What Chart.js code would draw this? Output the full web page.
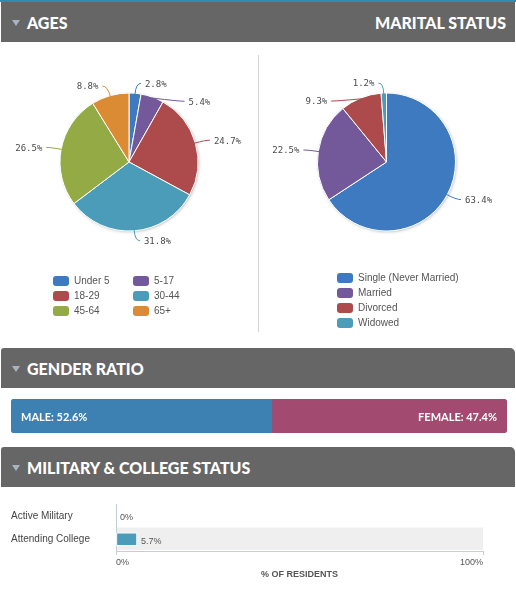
<!DOCTYPE html>
<html>
<head>
<meta charset="utf-8">
<script src="https://cdn.jsdelivr.net/npm/chart.js@4"></script>
<style>
  body { margin: 0; width: 516px; height: 594px; background: #fff; position: relative; overflow: hidden; font-family: "Liberation Sans", Arial, sans-serif; }
  .topline { position: absolute; left: 0; top: 0; width: 516px; height: 2px; background: #2f8cb9; }
  .head { position: absolute; left: 1px; width: 514px; height: 40px; background: #666; color: #fff;
          font: 900 16px Lato, sans-serif; line-height: 40px; border-radius: 3px 5px 0 0; }
  .head .tri { position: absolute; left: 11px; top: 18px; width: 0; height: 0;
               border-left: 4px solid transparent; border-right: 4px solid transparent; border-top: 6px solid #a9b3bf; }
  .head .t { position: absolute; left: 26px; top: 1px; }
  .head .r { position: absolute; right: 9px; top: 1px; }
  canvas { position: absolute; }
  .divider { position: absolute; left: 258px; top: 55px; width: 1px; height: 277px; background: #d4d4d4; }
  .legend { position: absolute; font-size: 10px; color: #555; }
  .legend .item { position: absolute; white-space: nowrap; }
  .legend .sw { position: absolute; left: 0; top: 0; width: 16px; height: 10px; border-radius: 3px; }
  .legend .lb { position: absolute; left: 21px; top: -1px; }
</style>
</head>
<body>
<div class="topline"></div>
<div class="head" style="top:2px;border-radius:0"><div class="tri"></div><span class="t">AGES</span><span class="r">MARITAL STATUS</span></div>
<canvas id="ages" width="258" height="220" style="left:0;top:45px;width:258px;height:220px"></canvas>
<canvas id="marital" width="258" height="220" style="left:258px;top:45px;width:258px;height:220px"></canvas>
<div class="divider"></div>
<div class="legend" id="agesLegend"></div>
<div class="legend" id="maritalLegend"></div>

<div class="head" style="top:348px"><div class="tri"></div><span class="t">GENDER RATIO</span></div>
<canvas id="gender" width="496" height="34" style="left:11px;top:399px;width:496px;height:34px"></canvas>

<div class="head" style="top:447px"><div class="tri"></div><span class="t">MILITARY &amp; COLLEGE STATUS</span></div>
<canvas id="military" width="516" height="95" style="left:0;top:495px;width:516px;height:95px"></canvas>

<script>
// ages
const ageGroups = ['Under 5', '5-17', '18-29', '30-44', '45-64', '65+'];
const agePct = [2.8, 5.4, 24.7, 31.8, 26.5, 8.8];
const ageColors = ['#3d7ac0', '#74599a', '#ad4a4b', '#4b9cb8', '#93aa45', '#db8b34'];

// marital status
const maritalGroups = ['Single (Never Married)', 'Married', 'Divorced', 'Widowed'];
const maritalPct = [63.4, 22.5, 9.3, 1.2];
const maritalColors = ['#3d7ac0', '#74599a', '#ad4a4b', '#4b9cb8'];

// gender
const genderLabels = ['MALE', 'FEMALE'];
const genderPct = [52.6, 47.4];
const genderColors = ['#3c81b1', '#a24a6f'];

// military & college
const statusLabels = ['Active Military', 'Attending College'];
const statusPct = [0, 5.7];
const axisTicks = [0, 100];

const pieLabels = {
  id: 'pieLabels',
  beforeDatasetsDraw(chart) {
    const arc = chart.getDatasetMeta(0).data[0];
    if (!arc) return;
    const ctx = chart.ctx;
    ctx.save();
    ctx.shadowColor = 'rgba(0,0,0,0.25)';
    ctx.shadowBlur = 3;
    ctx.shadowOffsetX = 1;
    ctx.shadowOffsetY = 1;
    ctx.fillStyle = '#fff';
    ctx.beginPath();
    ctx.arc(arc.x, arc.y, arc.outerRadius, 0, Math.PI * 2);
    ctx.fill();
    ctx.restore();
  },
  afterDatasetsDraw(chart) {
    const ctx = chart.ctx;
    const ds = chart.data.datasets[0];
    const arcs = chart.getDatasetMeta(0).data;
    if (!arcs.length) return;
    const cx = arcs[0].x, cy = arcs[0].y, r = arcs[0].outerRadius;
    const L = r + 10;
    // place labels on a ring, then push overlapping ones down (per side)
    const labels = arcs.map((arc, i) => {
      const mid = (arc.startAngle + arc.endAngle) / 2;
      return {
        i: i,
        ex: cx + Math.cos(mid) * (r - 1),
        ey: cy + Math.sin(mid) * (r - 1),
        dir: Math.cos(mid) >= 0 ? 1 : -1,
        y: cy + Math.sin(mid) * L
      };
    });
    [1, -1].forEach(side => {
      const list = labels.filter(l => l.dir === side).sort((a, b) => a.y - b.y);
      for (let k = 1; k < list.length; k++) {
        if (list[k].y < list[k - 1].y + 18) list[k].y = list[k - 1].y + 18;
      }
    });
    ctx.save();
    ctx.font = '9px "DejaVu Sans Mono"';
    ctx.textBaseline = 'middle';
    ctx.lineWidth = 1;
    labels.forEach(l => {
      const dy = l.y - cy;
      const x2 = cx + l.dir * Math.sqrt(Math.max(L * L - dy * dy, 0));
      const x3 = x2 + l.dir * 5;
      ctx.strokeStyle = ds.backgroundColor[l.i];
      ctx.beginPath();
      ctx.moveTo(l.ex, l.ey);
      ctx.quadraticCurveTo(x2, l.y, x3, l.y);
      ctx.stroke();
      ctx.fillStyle = '#4a4a4a';
      ctx.textAlign = l.dir > 0 ? 'left' : 'right';
      ctx.fillText(ds.data[l.i].toFixed(1) + '%', x3 + l.dir * 4, l.y + 1);
    });
    ctx.restore();
  }
};

function pieChart(id, labels, data, colors, padRight) {
  return new Chart(document.getElementById(id), {
    type: 'pie',
    data: {
      labels: labels,
      datasets: [{
        data: data,
        backgroundColor: colors,
        borderColor: '#fff',
        borderWidth: 1,
        hoverOffset: 0
      }]
    },
    options: {
      responsive: false,
      animation: false,
      radius: 69,
      layout: { padding: { top: 14, left: 0, right: padRight, bottom: 0 } },
      plugins: { legend: { display: false }, tooltip: { enabled: false } }
    },
    plugins: [pieLabels]
  });
}

pieChart('ages', ageGroups, agePct, ageColors, 0);
pieChart('marital', maritalGroups, maritalPct, maritalColors, 1);

function buildLegend(el, labels, colors, left, top, cols, colGap) {
  const box = document.getElementById(el);
  box.style.left = left + 'px';
  box.style.top = top + 'px';
  labels.forEach((lab, i) => {
    const item = document.createElement('div');
    item.className = 'item';
    item.style.left = (i % cols) * colGap + 'px';
    item.style.top = Math.floor(i / cols) * 15 + 'px';
    item.innerHTML = '<div class="sw" style="background:' + colors[i] + '"></div><span class="lb">' + lab + '</span>';
    box.appendChild(item);
  });
}
buildLegend('agesLegend', ageGroups, ageColors, 53, 276, 2, 80);
buildLegend('maritalLegend', maritalGroups, maritalColors, 337, 273, 1, 0);

// gender ratio bar
new Chart(document.getElementById('gender'), {
  type: 'bar',
  data: {
    labels: [''],
    datasets: genderLabels.map((g, i) => ({
      label: g,
      data: [genderPct[i]],
      backgroundColor: genderColors[i],
      borderSkipped: false,
      borderRadius: i === 0 ? { topLeft: 4, bottomLeft: 4 } : { topRight: 4, bottomRight: 4 },
      barPercentage: 1,
      categoryPercentage: 1
    }))
  },
  options: {
    indexAxis: 'y',
    responsive: false,
    animation: false,
    layout: { padding: 0 },
    scales: {
      x: { stacked: true, min: 0, max: 100, display: false },
      y: { stacked: true, display: false }
    },
    plugins: { legend: { display: false }, tooltip: { enabled: false } }
  },
  plugins: [{
    id: 'genderText',
    afterDatasetsDraw(chart) {
      const ctx = chart.ctx;
      ctx.save();
      ctx.font = 'bold 11px Lato';
      ctx.fillStyle = '#fff';
      ctx.textBaseline = 'middle';
      const m = chart.getDatasetMeta(0).data[0];
      const f = chart.getDatasetMeta(1).data[0];
      ctx.textAlign = 'left';
      ctx.fillText(genderLabels[0] + ': ' + genderPct[0] + '%', m.base + 10, m.y + 1);
      ctx.textAlign = 'right';
      ctx.fillText(genderLabels[1] + ': ' + genderPct[1] + '%', f.x - 10, f.y + 1);
      ctx.restore();
    }
  }]
});

// military & college
const axisColor = '#c3cedb';
new Chart(document.getElementById('military'), {
  type: 'bar',
  data: {
    labels: statusLabels,
    datasets: [{
      data: statusPct,
      backgroundColor: '#4b9cb8',
      borderColor: '#fff',
      borderWidth: 1,
      borderSkipped: false,
      barThickness: 13
    }]
  },
  options: {
    indexAxis: 'y',
    responsive: false,
    animation: false,
    layout: { padding: { left: 11, right: 33, top: 4, bottom: 0 } },
    scales: {
      x: {
        min: axisTicks[0],
        max: axisTicks[1],
        afterBuildTicks: (scale) => { scale.ticks = axisTicks.map(v => ({ value: v })); },
        afterFit: (scale) => { scale.height = 39; },
        grid: { drawOnChartArea: false, drawTicks: true, tickLength: 4, color: axisColor },
        border: { color: axisColor },
        ticks: {
          align: 'inner',
          padding: 2,
          color: '#555',
          font: { family: 'Liberation Sans', size: 9 },
          callback: v => v + '%'
        },
        title: {
          display: true,
          text: '% OF RESIDENTS',
          color: '#555',
          font: { family: 'Liberation Sans', size: 9, weight: 'bold' },
          padding: { top: 0, bottom: 10 }
        }
      },
      y: {
        afterFit: (scale) => { scale.width = 105; },
        grid: { display: false },
        border: { color: axisColor },
        ticks: {
          crossAlign: 'far',
          color: '#444',
          font: { family: 'Liberation Sans', size: 10 }
        }
      }
    },
    plugins: { legend: { display: false }, tooltip: { enabled: false } }
  },
  plugins: [{
    id: 'bands',
    beforeDraw(chart) {
      const { ctx, chartArea } = chart;
      const y = chart.scales.y;
      const h = (chartArea.bottom - chartArea.top) / statusLabels.length;
      ctx.save();
      ctx.fillStyle = '#efefef';
      statusLabels.forEach((s, i) => {
        if (i % 2 === 1) {
          const cy = y.getPixelForValue(i);
          ctx.fillRect(chartArea.left + 1, cy - h / 2, chartArea.right - chartArea.left - 1, h - 1);
        }
      });
      ctx.restore();
    },
    afterDatasetsDraw(chart) {
      const ctx = chart.ctx;
      ctx.save();
      ctx.font = '9px "Liberation Sans"';
      ctx.fillStyle = '#555';
      ctx.textBaseline = 'middle';
      ctx.textAlign = 'left';
      chart.getDatasetMeta(0).data.forEach((bar, i) => {
        ctx.fillText(statusPct[i] + '%', bar.x + 4, bar.y + 2);
      });
      ctx.restore();
    }
  }]
});
</script>
</body>
</html>
